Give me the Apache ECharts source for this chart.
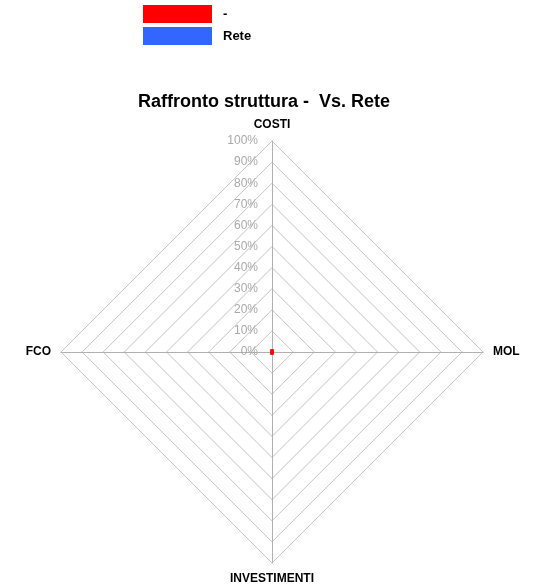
<!DOCTYPE html>
<html>
<head>
<meta charset="utf-8">
<script src="https://cdn.jsdelivr.net/npm/echarts@6/dist/echarts.min.js"></script>
<style>html,body{margin:0;padding:0;background:#fff}#c{width:539px;height:585px}</style>
</head>
<body>
<div id="c"></div>
<script>
// drawn counter-clockwise from top: COSTI (top), FCO (left), INVESTIMENTI (bottom), MOL (right)
const indicators = ['COSTI', 'FCO', 'INVESTIMENTI', 'MOL'];
const seriesNames = ['-', 'Rete'];
const valuesDash = [0, 0, 0, 0];
const valuesRete = [0, 0, 0, 0];
const colors = ['#ff0000', '#3366ff'];

const chart = echarts.init(document.getElementById('c'), null, {renderer: 'canvas'});
chart.setOption({
  animation: false,
  backgroundColor: '#ffffff',
  title: {
    text: 'Raffronto struttura -  Vs. Rete',
    left: 138,
    top: 93,
    padding: 0,
    textStyle: {fontFamily: 'Liberation Sans, Arial', fontSize: 18, fontWeight: 'bold', color: '#000'}
  },
  legend: {
    orient: 'vertical',
    left: 143,
    top: 5,
    padding: 0,
    itemWidth: 69,
    itemHeight: 18,
    itemGap: 4,
    icon: 'rect',
    data: seriesNames,
    textStyle: {fontFamily: 'Liberation Sans, Arial', fontSize: 13, fontWeight: 'bold', color: '#000', padding: [2, 0, 0, 6]}
  },
  radar: {
    center: [272, 352],
    radius: 211,
    shape: 'polygon',
    splitNumber: 10,
    startAngle: 90,
    nameGap: 10,
    axisName: {fontFamily: 'Liberation Sans, Arial', fontSize: 12, fontWeight: 'bold', color: '#000'},
    indicator: indicators.map((n, i) => i === 0
      ? {name: n, min: 0, max: 100}
      : {name: n, min: 0, max: 100, axisLabel: {show: false}}),
    axisLine: {lineStyle: {color: '#b0b0b0', width: 1}},
    splitLine: {lineStyle: {color: '#c4c4c4', width: 1}},
    splitArea: {show: false},
    axisTick: {show: false},
    axisLabel: {
      show: true,
      formatter: '{value}%',
      color: '#aaaaaa',
      fontFamily: 'Liberation Sans, Arial',
      fontSize: 12,
      margin: 14
    }
  },
  series: [{
    type: 'radar',
    data: [
      {name: seriesNames[1], value: valuesRete, symbol: 'none',
       itemStyle: {color: colors[1]}, lineStyle: {color: colors[1], width: 2}},
      {name: seriesNames[0], value: valuesDash, symbol: 'rect', symbolSize: [3, 5],
       itemStyle: {color: colors[0]}, lineStyle: {color: colors[0], width: 2}}
    ]
  }]
});
</script>
</body>
</html>
